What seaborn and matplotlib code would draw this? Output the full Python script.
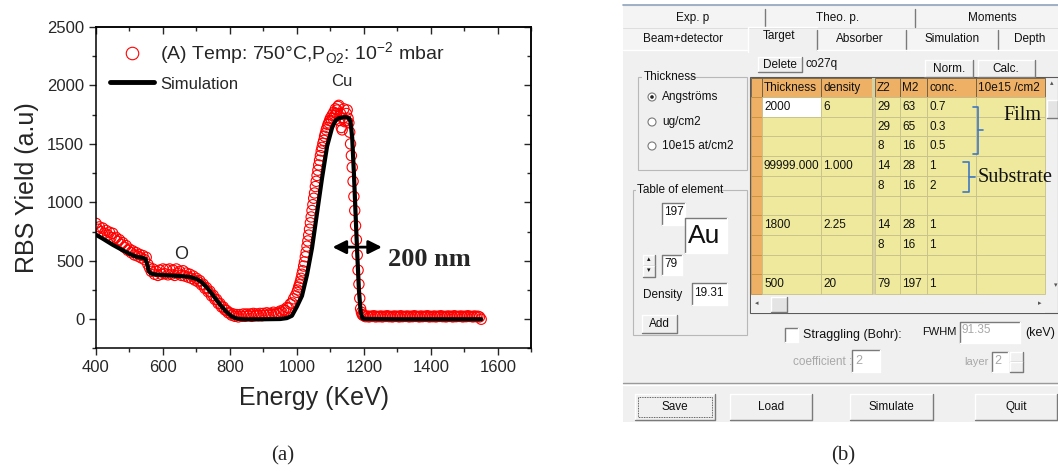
import numpy as np
import pandas as pd
import matplotlib
matplotlib.use('Agg')
import matplotlib.pyplot as plt
from matplotlib.patches import Rectangle, Circle
from matplotlib.lines import Line2D
from matplotlib.ticker import MultipleLocator
import seaborn as sns

sns.set_theme(style='ticks')
plt.rcParams['font.family'] = ['Liberation Sans', 'DejaVu Sans']

# ---------------- (a) RBS spectrum ----------------
# measured yield: 5 keV channels, 2.5 keV around the Cu peak
EXP_LOW = [820, 770, 790, 750, 780, 735, 760, 720, 745, 700,
           735, 690, 700, 665, 680, 640, 655, 615, 630, 590,
           600, 570, 585, 550, 570, 540, 555, 525, 545, 510,
           530, 470, 440, 410, 430, 385, 410, 375, 420, 385,
           430, 390, 425, 380, 430, 385, 420, 375, 430, 390,
           410, 375, 415, 370, 395, 360, 385, 350, 370, 335,
           350, 320, 330, 295, 300, 265, 270, 235, 240, 200,
           205, 170, 170, 135, 135, 105, 105, 80, 75, 55]
EXP_MID = [55, 35, 45, 25, 40, 20, 40, 25, 45, 25,
           45, 30, 45, 25, 50, 30, 45, 30, 50, 30,
           50, 35, 55, 35, 50, 40, 60, 40, 55, 50,
           70, 60, 80, 75, 100, 95, 130, 140, 175, 200]
EXP_PEAK = [230, 250, 275, 295, 320, 350, 385, 415, 455, 490,
            535, 575, 625, 670, 720, 770, 825, 875, 930, 980,
            1035, 1080, 1135, 1180, 1230, 1275, 1320, 1360, 1400, 1440,
            1470, 1505, 1530, 1565, 1590, 1620, 1640, 1665, 1680, 1700,
            1720, 1700, 1745, 1720, 1770, 1740, 1800, 1760, 1790, 1820,
            1830, 1700, 1760, 1640, 1620, 1720, 1800, 1690, 1700, 1760,
            1790, 1720, 1680, 1600, 1500, 1400, 1300, 1180, 1050, 930,
            800, 680, 550, 420, 300, 180, 90, 60, 40, 35]
EXP_TAIL = [30, 22, 28, 20, 26, 24, 30, 20, 25, 22,
            28, 20, 26, 24, 30, 22, 25, 20, 28, 24,
            26, 20, 30, 22, 25, 24, 28, 20, 26, 22,
            30, 24, 25, 20, 28, 22, 26, 24, 30, 20,
            25, 22, 28, 20, 26, 24, 30, 22, 25, 20,
            28, 24, 26, 20, 30, 22, 25, 24, 28, 20,
            26, 22, 30, 24, 25, 20, 28, 22, 26, 20,
            0]
exp_energy = np.concatenate([np.arange(400, 1000, 5),
                             np.arange(1000, 1200, 2.5),
                             np.arange(1200, 1555, 5)])
exp_yield = EXP_LOW + EXP_MID + EXP_PEAK + EXP_TAIL

SIM_E = [400, 420, 450, 480, 500, 520, 540, 548, 553, 558,
         565, 580, 600, 650, 680, 700, 715, 730, 745, 760,
         775, 790, 805, 820, 840, 900, 950, 970, 985, 1000,
         1015, 1030, 1045, 1060, 1075, 1090, 1105, 1115, 1125, 1145,
         1155, 1160, 1165, 1170, 1175, 1180, 1185, 1190, 1195, 1200,
         1300, 1400, 1550]
SIM_Y = [723, 690, 637, 590, 560, 535, 525, 515, 470, 410,
         390, 382, 378, 370, 362, 345, 318, 275, 222, 165,
         110, 62, 25, 6, 0, 0, 2, 10, 30, 109,
         200, 380, 610, 910, 1210, 1480, 1640, 1700, 1720, 1730,
         1720, 1690, 1550, 1250, 900, 560, 250, 70, 12, 3,
         0, 0, 0]

exp_df = pd.DataFrame({'energy': exp_energy, 'yield': exp_yield})
sim_df = pd.DataFrame({'energy': SIM_E, 'yield': SIM_Y})

fig = plt.figure(figsize=(10.58, 4.76), dpi=100)

# GUI canvas in pixel coordinates (drawn underneath)
gui = fig.add_axes([0, 0, 1, 1], zorder=0)
gui.set_xlim(0, 1058)
gui.set_ylim(476, 0)
gui.axis('off')

ax = fig.add_axes([0.0907, 0.2679, 0.4116, 0.6754], zorder=2)
sns.scatterplot(data=exp_df, x='energy', y='yield', ax=ax, marker='o',
                s=55, facecolor='none', edgecolor='red', linewidth=0.8, zorder=2)
sns.lineplot(data=sim_df, x='energy', y='yield', ax=ax, color='black',
             lw=3, zorder=3)

ax.set_xlim(400, 1700)
ax.set_ylim(-250, 2500)
ax.xaxis.set_major_locator(MultipleLocator(200))
ax.xaxis.set_minor_locator(MultipleLocator(100))
ax.set_yticks([0, 500, 1000, 1500, 2000, 2500])
ax.yaxis.set_minor_locator(MultipleLocator(250))
ax.tick_params(which='major', direction='out', length=5, width=1, labelsize=12)
ax.tick_params(which='minor', direction='out', length=3, width=1)
for sp in ax.spines.values():
    sp.set_linewidth(1.1)
    sp.set_color('black')
top = ax.secondary_xaxis('top')
top.xaxis.set_major_locator(MultipleLocator(200))
top.xaxis.set_minor_locator(MultipleLocator(100))
top.tick_params(which='both', direction='in', labeltop=False, width=1)
top.tick_params(which='major', length=5)
top.tick_params(which='minor', length=3)
right = ax.secondary_yaxis('right')
right.set_yticks([0, 500, 1000, 1500, 2000, 2500])
right.yaxis.set_minor_locator(MultipleLocator(250))
right.tick_params(which='both', direction='in', labelright=False, width=1)
right.tick_params(which='major', length=5)
right.tick_params(which='minor', length=3)

ax.set_xlabel('Energy (KeV)', fontsize=18, labelpad=8)
ax.set_ylabel('RBS Yield (a.u)', fontsize=18, labelpad=6)

handles = [Line2D([], [], marker='o', ls='none', mfc='none', mec='red', ms=9, mew=0.8),
           Line2D([], [], color='black', lw=3.5)]
labels = [r'(A) Temp: 750°C,P$_{\mathregular{O2}}$: 10$^{\mathregular{-2}}$ mbar',
          'Simulation']
leg = ax.legend(handles, labels, loc='upper left', bbox_to_anchor=(0.0, 1.0),
                frameon=False, handlelength=2.3, handletextpad=0.3,
                labelspacing=0.4, borderaxespad=0.3, fontsize=14)
leg.get_texts()[1].set_fontsize(12)

ax.text(1133, 2030, 'Cu', fontsize=12, ha='center', va='center')
ax.text(655, 555, 'O', fontsize=13, ha='center', va='center')
ax.annotate('', xy=(1098, 617), xytext=(1262, 617),
            arrowprops=dict(arrowstyle='<|-|>', color='black', lw=2, mutation_scale=20))
ax.text(1272, 515, '200 nm', fontsize=19, fontweight='bold',
        family='Liberation Serif', ha='left', va='center')

# ---------------- (b) simulation software window ----------------
BG = '#F0F0F0'
HEAD = '#EDB064'
CELL = '#EEE99C'
GRID = '#C8C08A'
DARK = '#7A7A7A'
GREY_TXT = '#A8A8A8'


def rect(x0, y0, x1, y1, fc, ec='none', lw=0.8, z=1):
    gui.add_patch(Rectangle((x0, y0), x1 - x0, y1 - y0, facecolor=fc,
                            edgecolor=ec, lw=lw, zorder=z))


def raised(x0, y0, x1, y1, fc=BG, z=2):
    rect(x0, y0, x1, y1, fc, z=z)
    gui.plot([x0, x0, x1], [y1, y0, y0], color='white', lw=1, zorder=z)
    gui.plot([x0, x1, x1], [y1, y1, y0], color=DARK, lw=1, zorder=z)


def sunken(x0, y0, x1, y1, fc='white', z=2):
    rect(x0, y0, x1, y1, fc, z=z)
    gui.plot([x0, x0, x1], [y1, y0, y0], color=DARK, lw=1, zorder=z)
    gui.plot([x0, x1, x1], [y1, y1, y0], color='white', lw=1, zorder=z)


def txt(x, y, s, size=8.5, ha='left', color='#111111', z=5, **kw):
    gui.text(x, y, s, fontsize=size, ha=ha, va='center', color=color, zorder=z, **kw)


# window body
rect(623, 5, 1058, 422, BG, z=0)
gui.plot([623, 1058], [5, 5], color='#8FA3BC', lw=1.2, zorder=1)

# tab rows
TABS_TOP = ['Exp. p', 'Theo. p.', 'Moments']
TABS_TOP_X = [693, 838, 992]
TABS_TOP_DIV = [765, 915]
TABS_LOW = ['Beam+detector', 'Target', 'Absorber', 'Simulation', 'Depth']
TABS_LOW_X = [683, 779, 860, 952, 1030]
TABS_LOW_DIV = [817, 906, 998]
rect(623, 7, 1058, 28, '#F4F4F4', z=1)
rect(623, 28, 1058, 50, '#F4F4F4', z=1)
gui.plot([623, 1058], [28, 28], color='#DADADA', lw=0.6, zorder=2)
for name, x in zip(TABS_TOP, TABS_TOP_X):
    txt(x, 18, name, ha='center')
for x in TABS_TOP_DIV:
    gui.plot([x, x], [9, 27], color=DARK, lw=1, zorder=2)
for name, x in zip(TABS_LOW, TABS_LOW_X):
    txt(x, 39 if name != 'Target' else 36, name, ha='center')
for x in TABS_LOW_DIV:
    gui.plot([x, x], [30, 50], color=DARK, lw=1, zorder=2)
rect(748, 27, 817, 52, BG, z=1.5)
gui.plot([748, 748, 817], [52, 27, 27], color='white', lw=1, zorder=2)
gui.plot([623, 748], [50, 50], color='white', lw=1, zorder=2)
gui.plot([817, 1058], [50, 50], color='white', lw=1, zorder=2)

# delete / norm / calc
raised(758, 57, 802, 72)
txt(780, 64.5, 'Delete', ha='center')
txt(806, 64, 'co27q')
raised(925, 60, 973, 77)
txt(949, 69, 'Norm.', ha='center')
raised(978, 60, 1035, 77)
txt(1006, 69, 'Calc.', ha='center')

# thickness group
gui.add_patch(Rectangle((638, 77), 109, 93, fc='none', ec='#B8B8B8', lw=0.8, zorder=2))
rect(642, 71, 690, 83, BG, z=2.5)
txt(644, 77, 'Thickness')
UNITS = ['Angströms', 'ug/cm2', '10e15 at/cm2']
UNITS_Y = [97, 122, 146]
for i, (u, y) in enumerate(zip(UNITS, UNITS_Y)):
    gui.add_patch(Circle((652, y), 4, fc='white', ec=DARK, lw=0.8, zorder=3))
    if i == 0:
        gui.add_patch(Circle((652, y), 1.8, fc='#222222', ec='none', zorder=4))
    txt(662, y, u)

# table of element group
gui.add_patch(Rectangle((633, 190), 114, 145, fc='none', ec='#B8B8B8', lw=0.8, zorder=2))
rect(636, 184, 717, 196, BG, z=2.5)
txt(637, 190, 'Table of element')
sunken(662, 203, 685, 225)
txt(664, 212, '197')
sunken(685, 218, 727, 253)
txt(688, 236, 'Au', size=19)
raised(643, 255, 655, 266)
raised(643, 266, 655, 277)
txt(649, 260, '▴', size=5, ha='center')
txt(649, 271, '▾', size=5, ha='center')
sunken(662, 255, 682, 275)
txt(664, 264, '79')
txt(643, 295, 'Density')
sunken(692, 283, 727, 305)
txt(694, 293, '19.31')
raised(642, 315, 677, 333)
txt(659.5, 324, 'Add', ha='center')

# element table
TABLE_HEAD = ['Thickness', 'density', 'Z2', 'M2', 'conc.', '10e15 /cm2']
TABLE_ROWS = [
    ['2000', '6', '29', '63', '0.7', ''],
    ['', '', '29', '65', '0.3', ''],
    ['', '', '8', '16', '0.5', ''],
    ['99999.000', '1.000', '14', '28', '1', ''],
    ['', '', '8', '16', '2', ''],
    ['', '', '', '', '', ''],
    ['1800', '2.25', '14', '28', '1', ''],
    ['', '', '8', '16', '1', ''],
    ['', '', '', '', '', ''],
    ['500', '20', '79', '197', '1', ''],
]
COL_EDGES = [(762, 821), (821, 872), (875, 900), (900, 927), (927, 976), (976, 1045)]
HEAD_Y = (78, 97)
ROW_H = 19.7

rect(750, 77, 1058, 313, BG, ec='#5A5A5A', lw=0.8, z=1.5)
rect(751, HEAD_Y[0], 762, HEAD_Y[1], HEAD, ec='#6A5A40', lw=0.6, z=2)
for (x0, x1), name in zip(COL_EDGES, TABLE_HEAD):
    rect(x0, HEAD_Y[0], x1, HEAD_Y[1], HEAD, ec='#6A5A40', lw=0.6, z=2)
    txt(x0 + 2, 88, name)
rect(872, HEAD_Y[0], 875, 295, '#D8D2A0', z=2)
for r, row in enumerate(TABLE_ROWS):
    y0 = HEAD_Y[1] + r * ROW_H
    y1 = y0 + ROW_H
    rect(751, y0, 762, y1, HEAD, ec='#C89040', lw=0.6, z=2)
    for c, ((x0, x1), val) in enumerate(zip(COL_EDGES, row)):
        fc = 'white' if (r == 0 and c == 0) else CELL
        rect(x0, y0, x1, y1, fc, ec=GRID, lw=0.6, z=2)
        if val:
            txt(x0 + 2, y0 + ROW_H / 2, val, z=6)

# scroll bars
txt(1052, 84, '▴', size=5, ha='center', color='#555555')
raised(1047, 100, 1058, 118, fc='#E4E4E4')
txt(1056, 286, '▾', size=5, ha='center', color='#555555')
rect(751, 296, 1045, 313, BG, z=2)
txt(757, 304, '◂', size=5, ha='center', color='#555555')
raised(771, 297, 787, 312, fc='#E4E4E4', z=3)
txt(1040, 304, '▸', size=5, ha='center', color='#555555')

# Film / Substrate brackets
BLUE = '#3F78C4'
gui.plot([973, 978, 978, 973], [107, 107, 154, 154], color=BLUE, lw=1.2, zorder=6)
gui.plot([978, 983], [130, 130], color=BLUE, lw=1.2, zorder=6)
gui.plot([963, 969, 969, 963], [162, 162, 192, 192], color=BLUE, lw=1.2, zorder=6)
gui.plot([969, 975], [177, 177], color=BLUE, lw=1.2, zorder=6)
txt(1003, 116, 'Film', size=14.5, family='Liberation Serif', z=7)
txt(978, 178, 'Substrate', size=14.5, family='Liberation Serif', z=7)

# straggling options
sunken(785, 328, 798, 342)
txt(803, 335, 'Straggling (Bohr):', size=9)
txt(922, 332, 'FWHM', size=8)
sunken(960, 322, 1020, 343)
txt(962, 330, '91.35', size=8.5, color=GREY_TXT)
txt(1025, 333, '(keV)', size=9)
txt(793, 362, 'coefficient :', size=8.5, color=GREY_TXT)
sunken(852, 350, 880, 372)
txt(855, 361, '2', size=9, color=GREY_TXT)
txt(964, 362, 'layer', size=8, color=GREY_TXT)
sunken(992, 352, 1008, 372)
txt(994, 361, '2', size=9, color=GREY_TXT)
raised(1010, 352, 1023, 362)
raised(1010, 362, 1023, 372)

# separator and bottom buttons
gui.plot([623, 1058], [383, 383], color='#9A9A9A', lw=1, zorder=2)
gui.plot([623, 1058], [384.5, 384.5], color='white', lw=1, zorder=2)
BUTTONS = ['Save', 'Load', 'Simulate', 'Quit']
BUTTON_X = [(635, 715), (730, 812), (850, 933), (975, 1057)]
for name, (x0, x1) in zip(BUTTONS, BUTTON_X):
    raised(x0, 394, x1, 420)
    txt((x0 + x1) / 2, 407, name, ha='center')
gui.add_patch(Rectangle((638, 397), 74, 20, fc='none', ec='#333333', lw=0.6,
                        ls=(0, (1, 1)), zorder=4))

# panel captions
fig.text(283 / 1058, 1 - 456 / 476, '(a)', fontsize=15, family='Liberation Serif',
         ha='center', va='center')
fig.text(843 / 1058, 1 - 456 / 476, '(b)', fontsize=15, family='Liberation Serif',
         ha='center', va='center')

fig.savefig('out.png', dpi=100)
